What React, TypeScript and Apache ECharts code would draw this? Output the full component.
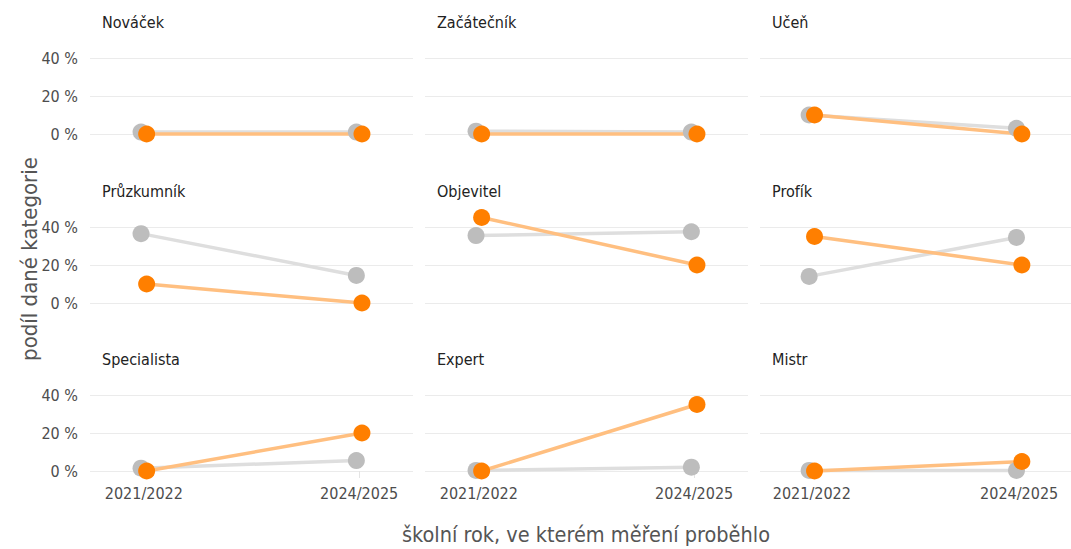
import React, { useEffect, useRef } from "react";
import * as echarts from "echarts";

const categories = ["Nováček", "Začátečník", "Učeň", "Průzkumník", "Objevitel", "Profík", "Specialista", "Expert", "Mistr"];
const years = ["2021/2022", "2024/2025"];
const greyValues = [
  [1, 1],
  [1.5, 1],
  [10, 3],
  [36.5, 14.5],
  [35.5, 37.5],
  [14, 34.5],
  [1.5, 5.5],
  [0.3, 2],
  [0.3, 0.3],
];
const orangeValues = [
  [0, 0],
  [0, 0],
  [10, 0],
  [10, 0],
  [45, 20],
  [35, 20],
  [0, 20],
  [0, 35],
  [0, 5],
];
const yTicks = [0, 20, 40];
const xTitle = "školní rok, ve kterém měření proběhlo";
const yTitle = "podíl dané kategorie";

const FONT = "'DejaVu Sans Condensed', 'Liberation Sans Narrow', 'DejaVu Sans', sans-serif";

export default function App() {
  const ref = useRef<HTMLDivElement>(null);
  useEffect(() => {
    if (!ref.current) return;
    const chart = echarts.init(ref.current, null, { renderer: "svg" });
    const colLeft = [90, 425, 760];
    const panelW = 323;
    const rowTop = [58, 227, 395];
    const panelH = 76;
    const dodge = 0.013;

    const grids: any[] = [];
    const xAxes: any[] = [];
    const yAxes: any[] = [];
    const series: any[] = [];
    const titles: any[] = [];

    categories.forEach((cat, i) => {
      const r = Math.floor(i / 3);
      const c = i % 3;
      grids.push({ left: colLeft[c], top: rowTop[r], width: panelW, height: panelH });
      const bottom = r === 2;
      xAxes.push({
        gridIndex: i,
        type: "value",
        min: -0.25,
        max: 1.25,
        axisLine: { show: false },
        splitLine: { show: false },
        axisTick: {
          show: bottom,
          customValues: [0, 1],
          length: 7,
          lineStyle: { color: "#e4e4e4", width: 1 },
        },
        axisLabel: {
          show: bottom,
          customValues: [0, 1],
          formatter: (v: number) => years[Math.round(v)],
          fontFamily: FONT,
          fontSize: 16,
          color: "#4d4d4d",
          margin: 14,
        },
      });
      yAxes.push({
        gridIndex: i,
        type: "value",
        min: 0,
        max: 40,
        interval: 20,
        axisLine: { show: false },
        axisTick: { show: false },
        splitLine: { show: true, lineStyle: { color: "#ebebeb", width: 1 } },
        axisLabel: {
          show: c === 0,
          customValues: yTicks,
          formatter: (v: number) => `${v} %`,
          fontFamily: FONT,
          fontSize: 16,
          color: "#4d4d4d",
          margin: 12,
        },
      });
      const g = greyValues[i].map((v, k) => [k - dodge, v]);
      const o = orangeValues[i].map((v, k) => [k + dodge, v]);
      series.push({
        type: "line",
        xAxisIndex: i,
        yAxisIndex: i,
        data: g,
        showSymbol: false,
        symbol: "none",
        clip: false,
        lineStyle: { color: "#dedede", width: 3.5 },
        z: 1,
        silent: true,
      });
      series.push({
        type: "line",
        xAxisIndex: i,
        yAxisIndex: i,
        data: o,
        showSymbol: false,
        symbol: "none",
        clip: false,
        lineStyle: { color: "#ffbf80", width: 3.5 },
        z: 2,
        silent: true,
      });
      series.push({
        type: "scatter",
        xAxisIndex: i,
        yAxisIndex: i,
        data: g,
        symbolSize: 17,
        clip: false,
        itemStyle: { color: "#bdbdbd", opacity: 1 },
        z: 3,
        silent: true,
      });
      series.push({
        type: "scatter",
        xAxisIndex: i,
        yAxisIndex: i,
        data: o,
        symbolSize: 17,
        clip: false,
        itemStyle: { color: "#ff7f00", opacity: 1 },
        z: 4,
        silent: true,
      });
      titles.push({
        text: cat,
        left: colLeft[c] + 12,
        top: rowTop[r] - 44,
        padding: 0,
        textStyle: { fontFamily: FONT, fontSize: 16, fontWeight: "normal", color: "#222" },
      });
    });

    chart.setOption({
      animation: false,
      backgroundColor: "#ffffff",
      title: titles,
      grid: grids,
      xAxis: xAxes,
      yAxis: yAxes,
      series,
      graphic: [
        {
          type: "text",
          x: 586,
          y: 534,
          style: {
            text: xTitle,
            fontFamily: FONT,
            fontSize: 21.5,
            fill: "#555",
            align: "center",
            verticalAlign: "middle",
          },
        },
        {
          type: "text",
          x: 29,
          y: 259,
          rotation: Math.PI / 2,
          style: {
            text: yTitle,
            fontFamily: FONT,
            fontSize: 22,
            fill: "#555",
            align: "center",
            verticalAlign: "middle",
          },
        },
      ],
    });
    return () => chart.dispose();
  }, []);
  return (
    <div
      ref={ref}
      style={{ position: "absolute", left: 0, top: 0, width: 1071, height: 549, background: "#fff" }}
    />
  );
}
